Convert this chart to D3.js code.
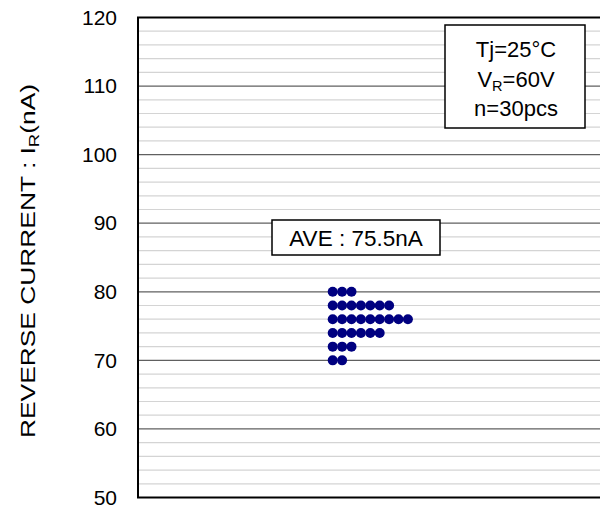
<!DOCTYPE html>
<html>
<head>
<meta charset="utf-8">
<script src="https://cdnjs.cloudflare.com/ajax/libs/d3/7.8.5/d3.min.js"></script>
<style>
  body { margin: 0; background: #fff; }
  text { font-family: "Liberation Sans", Arial, sans-serif; fill: #000; }
</style>
</head>
<body>
<svg id="canvas" width="600" height="512"></svg>
<script>
// measured reverse current, nA (one entry per device)
const samples = [
  80, 80, 80,
  78, 78, 78, 78, 78, 78, 78,
  76, 76, 76, 76, 76, 76, 76, 76, 76,
  74, 74, 74, 74, 74, 74,
  72, 72, 72,
  70, 70
]
const majorTicks = [50, 60, 70, 80, 90, 100, 110, 120]
const minorTicks = d3.range(50, 121, 2)
const conditions = ["Tj=25°C", "V|R|=60V", "n=30pcs"]
const aveLabel = "AVE : 75.5nA"

let canvas = d3.select("#canvas")

const plotLeft = 138, plotTop = 17.5, plotBottom = 497.5, plotRight = 603

let y = d3.scaleLinear().domain([50, 120]).range([plotBottom, plotTop])
// horizontal stacking of equal readings
let x = d3.scaleLinear().domain([0, 10]).range([332.7, 332.7 + 94])

// minor grid
canvas.append("g")
      .selectAll("line")
      .data(minorTicks.filter(d => d % 10 !== 0))
      .enter()
      .append("line")
      .attr("x1", plotLeft).attr("x2", plotRight)
      .attr("y1", d => y(d)).attr("y2", d => y(d))
      .attr("stroke", "#d4d4d4")
      .attr("stroke-width", 1.2)

// major grid
canvas.append("g")
      .selectAll("line")
      .data(majorTicks.filter(d => d !== 50 && d !== 120))
      .enter()
      .append("line")
      .attr("x1", plotLeft).attr("x2", plotRight)
      .attr("y1", d => y(d)).attr("y2", d => y(d))
      .attr("stroke", "#606060")
      .attr("stroke-width", 1.2)

// frame
canvas.append("rect")
      .attr("x", plotLeft).attr("y", plotTop)
      .attr("width", plotRight - plotLeft).attr("height", plotBottom - plotTop)
      .attr("fill", "none")
      .attr("stroke", "#000")
      .attr("stroke-width", 2)

// y axis labels
let yAxis = d3.axisLeft(y).tickValues(majorTicks).tickSize(0).tickPadding(21)
let ag = canvas.append("g")
               .attr("transform", `translate(${plotLeft},0)`)
               .call(yAxis)
ag.select(".domain").remove()
ag.selectAll("text")
  .style("font-family", '"Liberation Sans", Arial, sans-serif')
  .style("font-size", "21px")
  .attr("fill", "#000")

// y axis title
let title = canvas.append("text")
                  .attr("transform", "translate(35,261) rotate(-90)")
                  .attr("text-anchor", "middle")
                  .style("font-size", "20px")
                  .attr("textLength", 354)
                  .attr("lengthAdjust", "spacingAndGlyphs")
title.append("tspan").text("REVERSE CURRENT : I")
title.append("tspan").text("R").style("font-size", "14px").attr("dy", 4)
title.append("tspan").text("(nA)").attr("dy", -4)

// points
let count = {}
let stacked = samples.map(v => {
  count[v] = (count[v] || 0)
  let p = {value: v, idx: count[v]}
  count[v]++
  return p
})

canvas.append("g")
      .selectAll("circle")
      .data(stacked)
      .enter()
      .append("circle")
      .attr("cx", d => x(d.idx))
      .attr("cy", d => y(d.value))
      .attr("r", 5)
      .attr("fill", "#000080")

// condition box
canvas.append("rect")
      .attr("x", 445).attr("y", 25)
      .attr("width", 140).attr("height", 103)
      .attr("fill", "#fff")
      .attr("stroke", "#000")
      .attr("stroke-width", 1.5)

conditions.forEach((c, i) => {
  let t = canvas.append("text")
                .attr("x", 516)
                .attr("y", 57 + i * 29.5)
                .attr("text-anchor", "middle")
                .style("font-size", "22px")
  let parts = c.split("|")
  if (parts.length === 1) {
    t.text(c)
  } else {
    t.append("tspan").text(parts[0])
    t.append("tspan").text(parts[1]).style("font-size", "14.5px").attr("dy", 4.5)
    t.append("tspan").text(parts[2]).attr("dy", -4.5)
  }
})

// average box
canvas.append("rect")
      .attr("x", 272).attr("y", 220)
      .attr("width", 168).attr("height", 35)
      .attr("fill", "#fff")
      .attr("stroke", "#000")
      .attr("stroke-width", 1.5)

canvas.append("text")
      .attr("x", 356)
      .attr("y", 245.5)
      .attr("text-anchor", "middle")
      .style("font-size", "22.5px")
      .text(aveLabel)
</script>
</body>
</html>
